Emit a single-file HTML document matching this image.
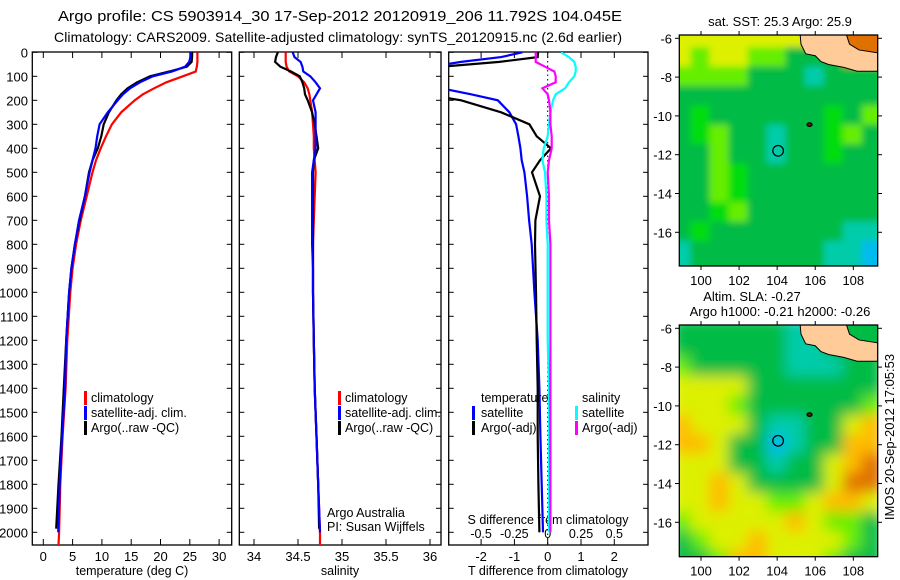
<!DOCTYPE html>
<html><head><meta charset="utf-8"><style>
html,body{margin:0;padding:0;background:#fff}
svg{display:block}
text{font-family:"Liberation Sans",sans-serif;fill:#000}
</style></head><body>
<svg id="fig" width="900" height="580" viewBox="0 0 900 580">
<defs>
<clipPath id="c1"><rect x="32.3" y="52" width="199.4" height="493"/></clipPath>
<clipPath id="c2"><rect x="239.3" y="52" width="201.7" height="493"/></clipPath>
<clipPath id="c3"><rect x="448.7" y="52" width="199.3" height="493"/></clipPath>
<clipPath id="m1"><rect x="679.3" y="35" width="198.4" height="231"/></clipPath>
<clipPath id="m2"><rect x="679.3" y="325" width="198.4" height="231.7"/></clipPath>
<filter id="b1" x="-10%" y="-10%" width="120%" height="120%"><feGaussianBlur stdDeviation="3.5"/></filter>
<filter id="b2" x="-10%" y="-10%" width="120%" height="120%"><feGaussianBlur stdDeviation="7"/></filter>
</defs>
<text x="340" y="21" text-anchor="middle" font-size="15" textLength="564" lengthAdjust="spacingAndGlyphs">Argo profile: CS 5903914_30 17-Sep-2012 20120919_206 11.792S 104.045E</text>
<text x="338" y="42" text-anchor="middle" font-size="14" textLength="568">Climatology: CARS2009. Satellite-adjusted climatology: synTS_20120915.nc (2.6d earlier)</text>
<g id="g1"></g>
<g id="g2"></g>
<g id="g3"></g>
<g id="map1"></g>
<g id="map2"></g>
<text x="780" y="26" text-anchor="middle" font-size="13">sat. SST: 25.3 Argo: 25.9</text>
<text x="752" y="301" text-anchor="middle" font-size="13">Altim. SLA: -0.27</text>
<text x="780" y="316" text-anchor="middle" font-size="13">Argo h1000: -0.21 h2000: -0.26</text>
<text transform="translate(894,437) rotate(-90)" text-anchor="middle" font-size="13">IMOS 20-Sep-2012 17:05:53</text>
</svg>
<script>
// ---- profile data ----
const climDepth = [0,20,40,60,80,100,125,150,175,200,250,300,350,400,450,500,600,700,800,900,1000,1200,1400,1600,1800,2000,2055];
const climT = [26.3,26.3,26.3,26.2,26.0,23.8,21.0,18.9,17.0,15.6,13.3,11.7,10.7,9.8,9.0,8.4,7.4,6.4,5.6,5.0,4.6,4.1,3.8,3.3,2.9,2.7,2.6];
const climS = [34.36,34.36,34.36,34.37,34.40,34.50,34.57,34.61,34.63,34.64,34.66,34.67,34.68,34.68,34.69,34.70,34.69,34.68,34.67,34.67,34.67,34.68,34.69,34.71,34.73,34.75,34.75];
const argoDepth = [0,20,40,60,80,100,125,150,175,200,250,300,350,400,450,500,600,700,800,900,1000,1200,1400,1600,1800,1985];
const argoT = [25.4,25.4,25.3,24.5,21.5,18.2,16.0,14.4,13.3,12.5,11.2,10.3,9.9,9.3,8.4,7.8,7.1,6.2,5.4,4.8,4.4,3.9,3.5,3.1,2.6,2.2];
const argoS = [34.27,34.25,34.24,34.30,34.42,34.52,34.55,34.57,34.58,34.61,34.66,34.69,34.71,34.73,34.68,34.67,34.67,34.67,34.67,34.67,34.67,34.68,34.69,34.71,34.73,34.74];
const satDepth = [0,20,40,60,80,100,125,150,175,200,250,300,350,400,450,500,600,700,800,900,1000,1200,1400,1600,1800,2000];
const satT = [25.2,25.1,24.9,24.2,22.0,18.7,16.5,14.8,13.6,12.7,11.0,9.6,9.2,8.9,8.4,7.9,7.1,6.1,5.4,4.8,4.4,3.9,3.7,3.2,2.8,2.55];
const satS = [34.44,34.46,34.53,34.55,34.56,34.64,34.70,34.75,34.71,34.67,34.70,34.70,34.70,34.70,34.68,34.66,34.66,34.66,34.66,34.67,34.67,34.68,34.69,34.71,34.73,34.75];
// ---- difference data ----
const diffDepth = [0,20,40,60,80,100,125,150,175,200,250,300,350,400,450,500,600,700,800,1000,1200,1400,1600,1800,2000];
const tdiffSat = [-0.76,-1.4,-2.6,-3.5,-4,-5,-5,-3.2,-2.3,-1.5,-1.15,-0.95,-0.88,-0.82,-0.78,-0.7,-0.62,-0.56,-0.48,-0.4,-0.3,-0.25,-0.22,-0.18,-0.14];
const tdiffArgo = [-0.29,-0.3,-1.45,-3.2,-4.5,-5.6,-5,-4.5,-3.7,-2.6,-1.4,-0.55,-0.33,0.1,-0.23,-0.47,-0.23,-0.37,-0.38,-0.35,-0.33,-0.3,-0.3,-0.28,-0.25];
const sdiffSat = [0.1,0.16,0.2,0.21,0.21,0.2,0.16,0.13,0.06,0.04,0.02,0.01,0,-0.03,-0.04,-0.02,-0.01,-0.01,0,0,0,0.01,0.01,0.01,0.01];
const sdiffArgo = [-0.09,-0.09,-0.09,-0.02,0.05,0.06,0.06,-0.04,0,0.01,0.02,0.02,0.03,0.03,0.01,0,0.01,0.01,0.02,0.02,0.02,0.02,0.02,0.02,0.02];
// ---- ticks ----
const depthTicks = [0,100,200,300,400,500,600,700,800,900,1000,1100,1200,1300,1400,1500,1600,1700,1800,1900,2000];
const tempTicks = [0,5,10,15,20,25,30];
const salTicks = [34,34.5,35,35.5,36];
const salTickLabels = ["34","34.5","35","35.5","36"];
const tdTicks = [-2,-1,0,1,2];
const sdTicks = [-0.5,-0.25,0,0.25,0.5];
const sdTickLabels = ["-0.5","-0.25","0","0.25","0.5"];
const lonTicks = [100,102,104,106,108];
const latTicks = [-6,-8,-10,-12,-14,-16];

const NS='http://www.w3.org/2000/svg';
function mk(tag,attrs,parent){const e=document.createElementNS(NS,tag);for(const k in attrs)e.setAttribute(k,attrs[k]);if(parent)parent.appendChild(e);return e;}
const yD = d => 52.3 + d*0.24;
const xT = t => 43.3 + t*5.86;
const xS = s => 254 + (s-34)*88;
const xTd = v => 547.7 + v*33.3;
const xSd = v => 547.7 + v*133.2;

function frame(g,x0,x1,name){
  const r=mk('rect',{x:x0,y:52,width:x1-x0,height:493,fill:'none',stroke:'#000','stroke-width':1.3},g);
  
  
  depthTicks.forEach(d=>{mk('line',{x1:x0,x2:x0+5,y1:yD(d),y2:yD(d),stroke:'#000'},g);mk('line',{x1:x1,x2:x1-5,y1:yD(d),y2:yD(d),stroke:'#000'},g);});
}
function xticks(g,vals,labs,fx,ly,name){
  vals.forEach((v,i)=>{
    mk('line',{x1:fx(v),x2:fx(v),y1:545,y2:539,stroke:'#000'},g);
    mk('line',{x1:fx(v),x2:fx(v),y1:52,y2:58,stroke:'#000'},g);
    const t=mk('text',{x:fx(v),y:ly,'text-anchor':'middle','font-size':13},g);
    t.textContent=labs[i];
    
    
  });
}
function line(g,xs,ds,fx,color,clip,name){
  const p=mk('polyline',{points:xs.map((v,i)=>fx(v).toFixed(1)+','+yD(ds[i]).toFixed(1)).join(' '),fill:'none',stroke:color,'stroke-width':2.2,'clip-path':'url(#'+clip+')'},g);
  
  
}
function txt(g,x,y,s,name,anchor){
  const t=mk('text',{x:x,y:y,'font-size':12.5,'text-anchor':anchor||'start'},g);
  t.textContent=s;
  
  
}
function bar(g,x,y,c,name){
  const r=mk('rect',{x:x,y:y-11,width:3,height:14,fill:c},g);
  
  
}

// panel 1
const g1=document.getElementById('g1');
frame(g1,32.3,231.7,'temperature-axes-frame');
depthTicks.forEach(d=>{const t=mk('text',{x:28,y:yD(d)+5,'text-anchor':'end','font-size':13},g1);t.textContent=String(d);

});
xticks(g1,tempTicks,tempTicks.map(String),xT,561,'temperature-tick-label');
txt(g1,132,575,'temperature (deg C)','temperature-axis-title','middle');
line(g1,climT,climDepth,xT,'#ff0000','c1','climatology-temperature-line');
line(g1,argoT,argoDepth,xT,'#000000','c1','argo-temperature-line');
line(g1,satT,satDepth,xT,'#0000ff','c1','satellite-temperature-line');
bar(g1,84,402,'#ff0000','legend-climatology-swatch');txt(g1,91,402,'climatology','legend-climatology');
bar(g1,84,417,'#0000ff','legend-satellite-swatch');txt(g1,91,417,'satellite-adj. clim.','legend-satellite');
bar(g1,84,432,'#000','legend-argo-swatch');txt(g1,91,432,'Argo(..raw -QC)','legend-argo');

// panel 2
const g2=document.getElementById('g2');
frame(g2,239.3,441,'salinity-axes-frame');
xticks(g2,salTicks,salTickLabels,xS,561,'salinity-tick-label');
txt(g2,340,575,'salinity','salinity-axis-title','middle');
line(g2,climS,climDepth,xS,'#ff0000','c2','climatology-salinity-line');
line(g2,argoS,argoDepth,xS,'#000000','c2','argo-salinity-line');
line(g2,satS,satDepth,xS,'#0000ff','c2','satellite-salinity-line');
bar(g2,338,402,'#ff0000','legend-climatology-swatch');txt(g2,345,402,'climatology','legend-climatology');
bar(g2,338,417,'#0000ff','legend-satellite-swatch');txt(g2,345,417,'satellite-adj. clim.','legend-satellite');
bar(g2,338,432,'#000','legend-argo-swatch');txt(g2,345,432,'Argo(..raw -QC)','legend-argo');
txt(g2,327,517,'Argo Australia','credit-argo-australia');
txt(g2,327,531,'PI: Susan Wijffels','credit-pi');

// panel 3
const g3=document.getElementById('g3');
frame(g3,448.7,648,'difference-axes-frame');
xticks(g3,tdTicks,tdTicks.map(String),xTd,561,'t-difference-tick-label');
sdTicks.forEach((v,i)=>{const t=mk('text',{x:xSd(v),y:538,'text-anchor':'middle','font-size':12.5},g3);t.textContent=sdTickLabels[i];

});
txt(g3,548,524,'S difference from climatology','s-difference-axis-title','middle');
txt(g3,548,575,'T difference from climatology','t-difference-axis-title','middle');
const zl=mk('line',{x1:xTd(0),x2:xTd(0),y1:52,y2:545,stroke:'#000','stroke-dasharray':'1.5,3'},g3);


line(g3,tdiffSat,diffDepth,xTd,'#0000ff','c3','satellite-t-difference-line');
line(g3,tdiffArgo,diffDepth,xTd,'#000000','c3','argo-t-difference-line');
line(g3,sdiffSat,diffDepth,xSd,'#00ffff','c3','satellite-s-difference-line');
line(g3,sdiffArgo,diffDepth,xSd,'#ff00ff','c3','argo-s-difference-line');
txt(g3,481,402,'temperature','legend-temperature-header');
txt(g3,582,402,'salinity','legend-salinity-header');
bar(g3,472,417,'#0000ff','legend-t-satellite-swatch');txt(g3,481,417,'satellite','legend-t-satellite');
bar(g3,472,432,'#000','legend-t-argo-swatch');txt(g3,481,432,'Argo(-adj)','legend-t-argo');
bar(g3,575,417,'#00ffff','legend-s-satellite-swatch');txt(g3,582,417,'satellite','legend-s-satellite');
bar(g3,575,432,'#ff00ff','legend-s-argo-swatch');txt(g3,582,432,'Argo(-adj)','legend-s-argo');

// ---- maps ----
const pal={G:'#00bb44',H:'#00dd11',L:'#66ee00',Y:'#ddf000',O:'#ffbb00',D:'#e07000',C:'#00ccaa',B:'#00bbee'};
const sstGrid=["YYYYYYYOODD","YLYYLLGGGDD","LLLLGGGCGGG","GGGGGGGGGGG","GHGGGGGGHGL","GHLGGCGGHLG","GGLGGCGGHGG","GGLHGGGGGGG","GGLHGGGGGGG","GGHLGGGGGGG","GHGGGGGGGCC","CGGGGGGGCCB","CGGGGGGGCCB"];
const slaGrid=["GGGGGGCCGGG","GGGGGGCCGGG","LGGGGGCCCGG","YYYYGGGGGGG","YYYLGGGGGGL","OYYYGCCGGYO","OOYGGBCGGOO","YYYGGCGGYOD","YYOYGGGGYDD","YYOYYLLYOOY","LYYYYYOYLLG","GLYYOYYYYLG","GGLOOYYYLGG"];
const landLon=[105.2,105.25,105.5,106,106.3,106.7,107.5,108.2,108.8,109.6,109.6];
const landLat=[-5.7,-6.3,-6.8,-6.9,-7.2,-7.35,-7.5,-7.7,-7.7,-7.7,-5.7];
const capLon=[107.6,107.8,108.3,109.6,109.6];
const capLat=[-5.7,-6.3,-6.6,-6.8,-5.7];
function drawMap(id,y0,top,h,grid,blur,capColor,clip){
  const g=document.getElementById(id);
  const mx=lon=>701+(lon-100)*19.04, my=lat=>y0+(-6-lat)*19.4;
  const cg=mk('g',{'clip-path':'url(#'+clip+')'},g);
  const fg=mk('g',{filter:'url(#'+blur+')'},cg);
  grid.forEach((row,r)=>{for(let c=0;c<row.length;c++){
    const lon=98.5+c, lat=-5.5-r;
    mk('rect',{x:mx(lon)-1,y:my(lat)-1,width:21,height:21.5,fill:pal[row[c]]},fg);
  }});
  const land=mk('polygon',{points:landLon.map((v,i)=>mx(v)+','+my(landLat[i])).join(' '),fill:'#ffcc99',stroke:'#000','stroke-width':1},cg);
  
  
  mk('polygon',{points:capLon.map((v,i)=>mx(v)+','+my(capLat[i])).join(' '),fill:capColor,stroke:'#000','stroke-width':1},cg);
  mk('ellipse',{cx:mx(105.7),cy:my(-10.45),rx:2.5,ry:1.8,fill:'#552200',stroke:'#000','stroke-width':1.2},cg);
  const ar=mk('circle',{cx:mx(104.05),cy:my(-11.8),r:5.3,fill:'none',stroke:'#000','stroke-width':1.2},cg);
  
  
  const fr=mk('rect',{x:679.3,y:top,width:198.4,height:h,fill:'none',stroke:'#000','stroke-width':1.3},g);
  
  
  lonTicks.forEach(v=>{mk('line',{x1:mx(v),x2:mx(v),y1:top,y2:top-4,stroke:'#000'},g);mk('line',{x1:mx(v),x2:mx(v),y1:top+h,y2:top+h+4,stroke:'#000'},g);
    const t=mk('text',{x:mx(v),y:top+h+19,'text-anchor':'middle','font-size':13},g);t.textContent=String(v);
    
    });
  latTicks.forEach(v=>{mk('line',{x1:679.3,x2:675,y1:my(v),y2:my(v),stroke:'#000'},g);mk('line',{x1:877.7,x2:882,y1:my(v),y2:my(v),stroke:'#000'},g);
    const t=mk('text',{x:672,y:my(v)+5,'text-anchor':'end','font-size':13},g);t.textContent=String(v);
    
    });
}
drawMap('map1',38.3,35,231,sstGrid,'b1','#e07000','m1');
drawMap('map2',328.3,325,231.7,slaGrid,'b2','#00bb44','m2');
</script>
</body></html>
